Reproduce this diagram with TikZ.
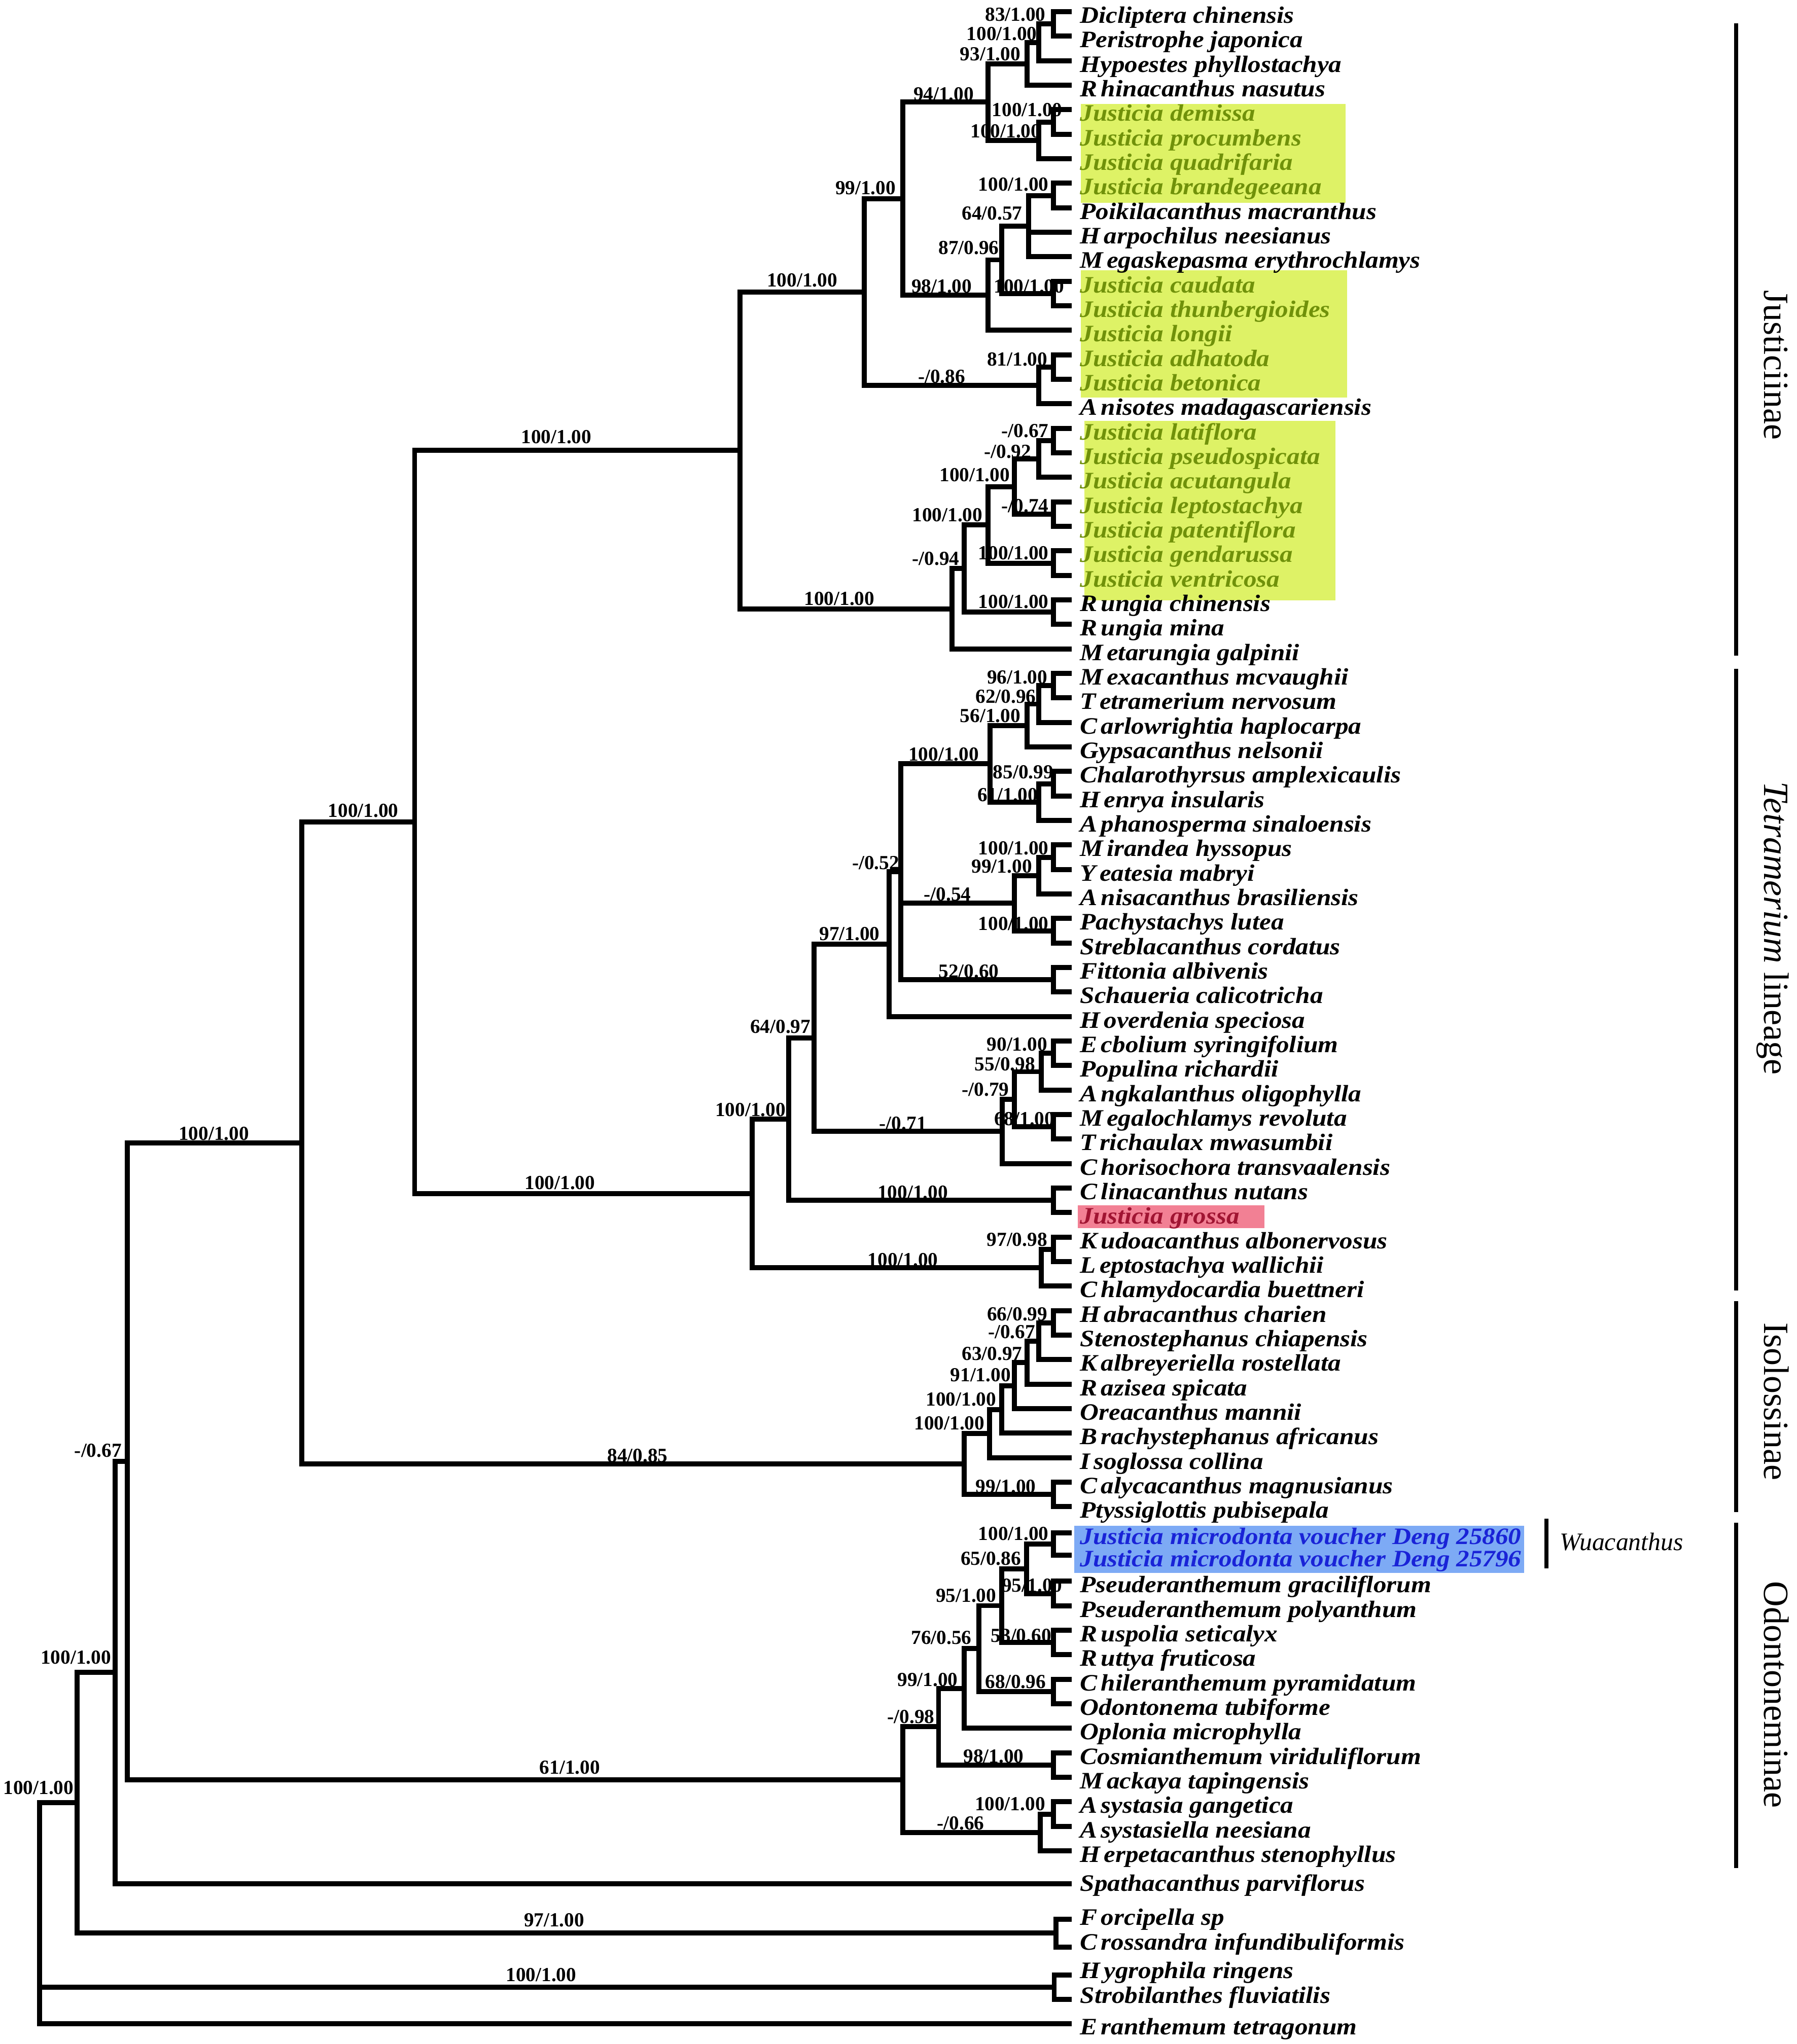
\documentclass[tikz,border=0pt]{standalone}
\usepackage{fontspec}
\setmainfont{Liberation Serif}
\newfontfamily\tipfamily[FakeStretch=1.1]{Liberation Serif}
\definecolor{greenhl}{RGB}{222,242,102}
\definecolor{greentx}{RGB}{112,145,10}
\definecolor{pinkhl}{RGB}{242,128,148}
\definecolor{redtx}{RGB}{160,20,50}
\definecolor{bluehl}{RGB}{125,170,245}
\definecolor{bluetx}{RGB}{25,35,215}
\newcommand\gapk{\kern1.6pt}
\newcommand\nodept[3]{\coordinate (#1) at (#2,#3);}
\newcommand\kids[2]{\foreach \kk in {#2}{\draw[branch] (#1) |- (\kk);}}
\newcommand\leaf[4][tipblk]{\coordinate (#2) at (820,#3);
  \node[leaflab,#1] (#2L) at (828,#3+8.7) {#4};}
\newcommand\leafB[5][tipblk]{\coordinate (#2) at (820,#3);
  \node[leaflab,#1] (#2L) at (828,#4) {#5};}
\tikzset{
  branch/.style={line width=2.2pt, line cap=rect},
  leaflab/.style={anchor=base west, inner sep=0pt, font=\tipfamily\bfseries\itshape\fontsize{10.3}{12}\selectfont},
  tipblk/.style={text=black},
  jg/.style={text=greentx},
  jr/.style={text=redtx},
  jb/.style={text=bluetx},
  supl/.style={inner sep=0pt, font=\bfseries\fontsize{8.7}{10}\selectfont},
  grpbar/.style={line width=1.7pt},
  grplab/.style={rotate=-90, anchor=base, inner sep=0pt, font=\fontsize{15.5}{18}\selectfont}
}
\begin{document}
\begin{tikzpicture}[x=0.02cm,y=-0.02cm]
\useasboundingbox (0,0) rectangle (1378,1568);
\fill[white] (0,0) rectangle (1378,1568);
% highlight boxes
\fill[greenhl] (828.8,79.7) rectangle (1031.8,155.6);
\fill[greenhl] (828.8,207.5) rectangle (1033.3,305.1);
\fill[greenhl] (831.7,322.9) rectangle (1024.3,460.4);
\fill[pinkhl] (826.5,924.5) rectangle (969.8,942.3);
\fill[bluehl] (824,1170.4) rectangle (1169,1206.8);

\begin{scope}[yshift=0.06cm]
% ---------- tips ----------
\leaf{t1}{12.0}{Dicliptera chinensis}
\leaf{t2}{30.8}{Peristrophe japonica}
\leaf{t3}{49.6}{Hypoestes phyllostachya}
\leaf{t4}{68.4}{R\gapk hinacanthus nasutus}
\leaf[jg]{t5}{87.2}{Justicia demissa}
\leaf[jg]{t6}{106.0}{Justicia procumbens}
\leaf[jg]{t7}{124.8}{Justicia quadrifaria}
\leaf[jg]{t8}{143.6}{Justicia brandegeeana}
\leaf{t9}{162.4}{Poikilacanthus macranthus}
\leaf{t10}{181.2}{H\gapk arpochilus neesianus}
\leaf{t11}{200.0}{M\gapk egaskepasma erythrochlamys}
\leaf[jg]{t12}{218.8}{Justicia caudata}
\leaf[jg]{t13}{237.6}{Justicia thunbergioides}
\leaf[jg]{t14}{256.4}{Justicia longii}
\leaf[jg]{t15}{275.2}{Justicia adhatoda}
\leaf[jg]{t16}{294.0}{Justicia betonica}
\leaf{t17}{312.8}{A\gapk nisotes madagascariensis}
\leaf[jg]{t18}{331.6}{Justicia latiflora}
\leaf[jg]{t19}{350.4}{Justicia pseudospicata}
\leaf[jg]{t20}{369.2}{Justicia acutangula}
\leaf[jg]{t21}{388.0}{Justicia leptostachya}
\leaf[jg]{t22}{406.8}{Justicia patentiflora}
\leaf[jg]{t23}{425.6}{Justicia gendarussa}
\leaf[jg]{t24}{444.4}{Justicia ventricosa}
\leaf{t25}{463.2}{R\gapk ungia chinensis}
\leaf{t26}{482.0}{R\gapk ungia mina}
\leaf{t27}{500.8}{M\gapk etarungia galpinii}
\leaf{t28}{519.6}{M\gapk exacanthus mcvaughii}
\leaf{t29}{538.4}{T\gapk etramerium nervosum}
\leaf{t30}{557.2}{C\gapk arlowrightia haplocarpa}
\leaf{t31}{576.0}{Gypsacanthus nelsonii}
\leaf{t32}{594.8}{Chalarothyrsus amplexicaulis}
\leaf{t33}{613.6}{H\gapk enrya insularis}
\leaf{t34}{632.4}{A\gapk phanosperma sinaloensis}
\leaf{t35}{651.2}{M\gapk irandea hyssopus}
\leaf{t36}{670.0}{Y\gapk eatesia mabryi}
\leaf{t37}{688.8}{A\gapk nisacanthus brasiliensis}
\leaf{t38}{707.6}{Pachystachys lutea}
\leaf{t39}{726.4}{Streblacanthus cordatus}
\leaf{t40}{745.2}{Fittonia albivenis}
\leaf{t41}{764.0}{Schaueria calicotricha}
\leaf{t42}{782.8}{H\gapk overdenia speciosa}
\leaf{t43}{801.6}{E\gapk cbolium syringifolium}
\leaf{t44}{820.4}{Populina richardii}
\leaf{t45}{839.2}{A\gapk ngkalanthus oligophylla}
\leaf{t46}{858.0}{M\gapk egalochlamys revoluta}
\leaf{t47}{876.8}{T\gapk richaulax mwasumbii}
\leaf{t48}{895.6}{C\gapk horisochora transvaalensis}
\leaf{t49}{914.4}{C\gapk linacanthus nutans}
\leaf[jr]{t50}{933.2}{Justicia grossa}
\leaf{t51}{952.0}{K\gapk udoacanthus albonervosus}
\leaf{t52}{970.8}{L\gapk eptostachya wallichii}
\leaf{t53}{989.6}{C\gapk hlamydocardia buettneri}
\leaf{t54}{1008.4}{H\gapk abracanthus charien}
\leaf{t55}{1027.2}{Stenostephanus chiapensis}
\leaf{t56}{1046.0}{K\gapk albreyeriella rostellata}
\leaf{t57}{1064.8}{R\gapk azisea spicata}
\leaf{t58}{1083.6}{Oreacanthus mannii}
\leaf{t59}{1102.4}{B\gapk rachystephanus africanus}
\leaf{t60}{1121.2}{I\gapk soglossa collina}
\leaf{t61}{1140.0}{C\gapk alycacanthus magnusianus}
\leaf{t62}{1158.8}{Ptyssiglottis pubisepala}
\leaf[jb]{t63}{1179}{Justicia microdonta voucher Deng 25860}
\leaf[jb]{t64}{1196}{Justicia microdonta voucher Deng 25796}
\leaf{t65}{1216}{Pseuderanthemum graciliflorum}
\leaf{t66}{1234.8}{Pseuderanthemum polyanthum}
\leaf{t67}{1253.6}{R\gapk uspolia seticalyx}
\leaf{t68}{1272.4}{R\gapk uttya fruticosa}
\leaf{t69}{1291.2}{C\gapk hileranthemum pyramidatum}
\leaf{t70}{1310}{Odontonema tubiforme}
\leaf{t71}{1328.8}{Oplonia microphylla}
\leaf{t72}{1347.6}{Cosmianthemum viriduliflorum}
\leaf{t73}{1366.4}{M\gapk ackaya tapingensis}
\leaf{t74}{1385.2}{A\gapk systasia gangetica}
\leaf{t75}{1404}{A\gapk systasiella neesiana}
\leaf{t76}{1422.8}{H\gapk erpetacanthus stenophyllus}
\leafB{t77}{1448}{1453.7}{Spathacanthus parviflorus}
\leafB{t78}{1475.2}{1479.7}{F\gapk orcipella sp}
\leafB{t79}{1496.6}{1498.7}{C\gapk rossandra infundibuliformis}
\leafB{t80}{1518}{1520.7}{H\gapk ygrophila ringens}
\leafB{t81}{1536.8}{1539.7}{Strobilanthes fluviatilis}
\leafB{t82}{1555.6}{1563.7}{E\gapk ranthemum tetragonum}

% ---------- internal nodes ----------
\nodept{J1}{808}{21.4}
\nodept{J2}{796.6}{35.5}
\nodept{J3}{787.7}{52.0}
\nodept{J4}{808}{96.6}
\nodept{J5}{796.6}{110.7}
\nodept{J6}{757.9}{81.35}
\nodept{J7}{808}{153}
\nodept{J8}{789}{176.5}
\nodept{J9}{808}{228.2}
\nodept{J10}{768.3}{202.35}
\nodept{J11}{757.9}{229.4}
\nodept{J12}{692.4}{155.4}
\nodept{J13}{808}{284.6}
\nodept{J14}{796.6}{298.7}
\nodept{J15}{663}{227}
\nodept{J16}{808}{341}
\nodept{J17}{796.6}{355.1}
\nodept{J18}{808}{397.4}
\nodept{J19}{778.1}{376.25}
\nodept{J20}{808}{435}
\nodept{J21}{757.9}{405.6}
\nodept{J22}{808}{472.6}
\nodept{J23}{739.4}{439.1}
\nodept{J24}{730.2}{470}
\nodept{J25}{567.5}{348.5}

\nodept{T1}{808}{529}
\nodept{T2}{796.6}{543.1}
\nodept{T3}{787.7}{559.55}
\nodept{T4}{808}{604.2}
\nodept{T5}{796.6}{618.3}
\nodept{T6}{759.4}{588.9}
\nodept{T7}{808}{660.6}
\nodept{T8}{796.6}{674.7}
\nodept{T9}{808}{717}
\nodept{T10}{778.1}{695.85}
\nodept{T11}{808}{754.6}
\nodept{T12}{690.9}{671.75}
\nodept{T13}{682}{727.3}
\nodept{T14}{808}{811}
\nodept{T15}{798.6}{825.1}
\nodept{T16}{808}{867.4}
\nodept{T17}{778.1}{846.25}
\nodept{T18}{768.8}{870.9}
\nodept{T19}{624.2}{799.1}
\nodept{T20}{808}{923.8}
\nodept{T21}{605}{861.45}
\nodept{T22}{808}{961.4}
\nodept{T23}{798.6}{975.5}
\nodept{T24}{577}{918.5}

\nodept{I1}{808}{1017.8}
\nodept{I2}{796.6}{1031.9}
\nodept{I3}{787.7}{1048.35}
\nodept{I4}{778.1}{1065.95}
\nodept{I5}{768.3}{1084.2}
\nodept{I6}{758.8}{1102.7}
\nodept{I7}{808}{1149.4}
\nodept{I8}{739.4}{1126.05}

\nodept{O1}{808}{1187.5}
\nodept{O2}{808}{1225.4}
\nodept{O3}{787.3}{1206.45}
\nodept{O4}{808}{1263}
\nodept{O5}{768.3}{1234.7}
\nodept{O6}{808}{1300.6}
\nodept{O7}{750.6}{1267.65}
\nodept{O8}{739.6}{1298.2}
\nodept{O9}{808}{1357}
\nodept{O10}{719.8}{1327.6}
\nodept{O11}{808}{1394.6}
\nodept{O12}{797.8}{1408.7}
\nodept{O13}{692.4}{1368.15}

\nodept{B1}{318}{633.5}
\nodept{B2}{231.5}{879.8}
\nodept{B3}{97.6}{1124}
\nodept{B4}{88.2}{1286}
\nodept{F1}{810}{1485.9}
\nodept{B5}{59}{1385.95}
\nodept{H1}{808.5}{1527.4}
\nodept{R}{30.4}{1470}

% ---------- branches ----------
\kids{J1}{t1,t2}
\kids{J2}{J1,t3}
\kids{J3}{J2,t4}
\kids{J4}{t5,t6}
\kids{J5}{J4,t7}
\kids{J6}{J3,J5}
\kids{J7}{t8,t9}
\kids{J8}{J7,t10,t11}
\kids{J9}{t12,t13}
\kids{J10}{J8,J9}
\kids{J11}{J10,t14}
\kids{J12}{J6,J11}
\kids{J13}{t15,t16}
\kids{J14}{J13,t17}
\kids{J15}{J12,J14}
\kids{J16}{t18,t19}
\kids{J17}{J16,t20}
\kids{J18}{t21,t22}
\kids{J19}{J17,J18}
\kids{J20}{t23,t24}
\kids{J21}{J19,J20}
\kids{J22}{t25,t26}
\kids{J23}{J21,J22}
\kids{J24}{J23,t27}
\kids{J25}{J15,J24}

\kids{T1}{t28,t29}
\kids{T2}{T1,t30}
\kids{T3}{T2,t31}
\kids{T4}{t32,t33}
\kids{T5}{T4,t34}
\kids{T6}{T3,T5}
\kids{T7}{t35,t36}
\kids{T8}{T7,t37}
\kids{T9}{t38,t39}
\kids{T10}{T8,T9}
\kids{T11}{t40,t41}
\kids{T12}{T6,T10,T11}
\kids{T13}{T12,t42}
\kids{T14}{t43,t44}
\kids{T15}{T14,t45}
\kids{T16}{t46,t47}
\kids{T17}{T15,T16}
\kids{T18}{T17,t48}
\kids{T19}{T13,T18}
\kids{T20}{t49,t50}
\kids{T21}{T19,T20}
\kids{T22}{t51,t52}
\kids{T23}{T22,t53}
\kids{T24}{T21,T23}

\kids{I1}{t54,t55}
\kids{I2}{I1,t56}
\kids{I3}{I2,t57}
\kids{I4}{I3,t58}
\kids{I5}{I4,t59}
\kids{I6}{I5,t60}
\kids{I7}{t61,t62}
\kids{I8}{I6,I7}

\kids{O1}{t63,t64}
\kids{O2}{t65,t66}
\kids{O3}{O1,O2}
\kids{O4}{t67,t68}
\kids{O5}{O3,O4}
\kids{O6}{t69,t70}
\kids{O7}{O5,O6}
\kids{O8}{O7,t71}
\kids{O9}{t72,t73}
\kids{O10}{O8,O9}
\kids{O11}{t74,t75}
\kids{O12}{O11,t76}
\kids{O13}{O10,O12}

\kids{B1}{J25,T24}
\kids{B2}{B1,I8}
\kids{B3}{B2,O13}
\kids{B4}{B3,t77}
\kids{F1}{t78,t79}
\kids{B5}{B4,F1}
\kids{H1}{t80,t81}
\kids{R}{B5,H1,t82}
\end{scope}

% ---------- support values ----------
\node[supl] (s1) at (778.7,11.2) {83/1.00};
\node[supl] (s2) at (768.3,26.0) {100/1.00};
\node[supl] (s3) at (759.4,41.7) {93/1.00};
\node[supl] (s4) at (723.7,72.2) {94/1.00};
\node[supl] (s5) at (787.7,84.4) {100/1.00};
\node[supl] (s6) at (771.3,100.7) {100/1.00};
\node[supl] (s7) at (663.8,144.1) {99/1.00};
\node[supl] (s8) at (777.3,141.4) {100/1.00};
\node[supl] (s9) at (760.9,163.7) {64/0.57};
\node[supl] (s10) at (743,190.2) {87/0.96};
\node[supl] (s11) at (722.2,219.7) {98/1.00};
\node[supl] (s12) at (789.2,219.7) {100/1.00};
\node[supl] (s13) at (780.2,275.6) {81/1.00};
\node[supl] (s14) at (722.2,288.8) {-/0.86};
\node[supl] (s15) at (615.2,215.1) {100/1.00};
\node[supl] (s16) at (786.2,330.5) {-/0.67};
\node[supl] (s17) at (772.8,346.5) {-/0.92};
\node[supl] (s18) at (786.2,388.1) {-/0.74};
\node[supl] (s19) at (747.5,364.5) {100/1.00};
\node[supl] (s20) at (777.3,424.2) {100/1.00};
\node[supl] (s21) at (726.6,395) {100/1.00};
\node[supl] (s22) at (777.3,461.7) {100/1.00};
\node[supl] (s23) at (717.7,428.4) {-/0.94};
\node[supl] (s24) at (643.7,459.3) {100/1.00};
\node[supl] (s25) at (426.7,335) {100/1.00};

\node[supl] (s26) at (780.2,519.5) {96/1.00};
\node[supl] (s27) at (771.3,534.2) {62/0.96};
\node[supl] (s28) at (759.4,549) {56/1.00};
\node[supl] (s29) at (723.7,578.5) {100/1.00};
\node[supl] (s30) at (784.7,592.4) {85/0.99};
\node[supl] (s31) at (772.8,609.8) {61/1.00};
\node[supl] (s32) at (777.3,650.6) {100/1.00};
\node[supl] (s33) at (768.3,664.5) {99/1.00};
\node[supl] (s34) at (726.6,686.1) {-/0.54};
\node[supl] (s35) at (777.3,708.7) {100/1.00};
\node[supl] (s36) at (743,745.2) {52/0.60};
\node[supl] (s37) at (671.6,661.8) {-/0.52};
\node[supl] (s38) at (651.5,716.2) {97/1.00};
\node[supl] (s39) at (780,801.2) {90/1.00};
\node[supl] (s40) at (770.7,816.5) {55/0.98};
\node[supl] (s41) at (785.6,858.4) {68/1.00};
\node[supl] (s42) at (755.8,835.9) {-/0.79};
\node[supl] (s43) at (692.5,861.7) {-/0.71};
\node[supl] (s44) at (598.5,787.5) {64/0.97};
\node[supl] (s45) at (700,914.9) {100/1.00};
\node[supl] (s46) at (575.5,851.4) {100/1.00};
\node[supl] (s47) at (780,951.1) {97/0.98};
\node[supl] (s48) at (692.5,966.4) {100/1.00};
\node[supl] (s49) at (429.4,907.3) {100/1.00};

\node[supl] (s50) at (780.2,1008) {66/0.99};
\node[supl] (s51) at (775.8,1021.6) {-/0.67};
\node[supl] (s52) at (760.9,1038.5) {63/0.97};
\node[supl] (s53) at (752,1054.7) {91/1.00};
\node[supl] (s54) at (737.1,1073.5) {100/1.00};
\node[supl] (s55) at (728.1,1091.7) {100/1.00};
\node[supl] (s56) at (771.3,1140.3) {99/1.00};
\node[supl] (s57) at (489,1116.6) {84/0.85};

\node[supl] (s58) at (777.3,1176.6) {100/1.00};
\node[supl] (s59) at (791.5,1216.4) {95/1.00};
\node[supl] (s60) at (759.9,1195.5) {65/0.86};
\node[supl] (s61) at (783.1,1254.6) {53/0.60};
\node[supl] (s62) at (740.9,1224.2) {95/1.00};
\node[supl] (s63) at (778.9,1290.2) {68/0.96};
\node[supl] (s64) at (721.9,1256.3) {76/0.56};
\node[supl] (s65) at (711.4,1288.4) {99/1.00};
\node[supl] (s66) at (762,1347.4) {98/1.00};
\node[supl] (s67) at (698.7,1317.1) {-/0.98};
\node[supl] (s68) at (774.6,1383.9) {100/1.00};
\node[supl] (s69) at (736.7,1398.7) {-/0.66};
\node[supl] (s70) at (437,1356) {61/1.00};

\node[supl] (s71) at (278.6,622) {100/1.00};
\node[supl] (s72) at (164,869.6) {100/1.00};
\node[supl] (s73) at (75.2,1112.6) {-/0.67};
\node[supl] (s74) at (58.2,1271.4) {100/1.00};
\node[supl] (s75) at (29.5,1371.5) {100/1.00};
\node[supl] (s76) at (425,1473) {97/1.00};
\node[supl] (s77) at (415,1515) {100/1.00};

% ---------- group annotations ----------
\coordinate (ga1) at (1331.5,18);   \coordinate (ga2) at (1331.5,503);
\coordinate (gb1) at (1331.5,513);  \coordinate (gb2) at (1331.5,990);
\coordinate (gc1) at (1331.5,998);  \coordinate (gc2) at (1331.5,1160);
\coordinate (gd1) at (1331.5,1168); \coordinate (gd2) at (1331.5,1433);
\draw[grpbar] (ga1) -- (ga2);
\draw[grpbar] (gb1) -- (gb2);
\draw[grpbar] (gc1) -- (gc2);
\draw[grpbar] (gd1) -- (gd2);
\node[grplab] (gla) at (1353,280) {Justiciinae};
\node[grplab] (glb) at (1353,712) {\textit{Tetramerium} lineage};
\node[grplab] (glc) at (1353,1075) {Isolossinae};
\node[grplab] (gld) at (1353,1300) {Odontoneminae};

\coordinate (gw1) at (1186,1165); \coordinate (gw2) at (1186,1203);
\draw[grpbar] (gw1) -- (gw2);
\node[anchor=base west, inner sep=0pt, font=\itshape\fontsize{11}{13}\selectfont] (glw) at (1196,1189.5) {Wuacanthus};
\end{tikzpicture}
\end{document}
